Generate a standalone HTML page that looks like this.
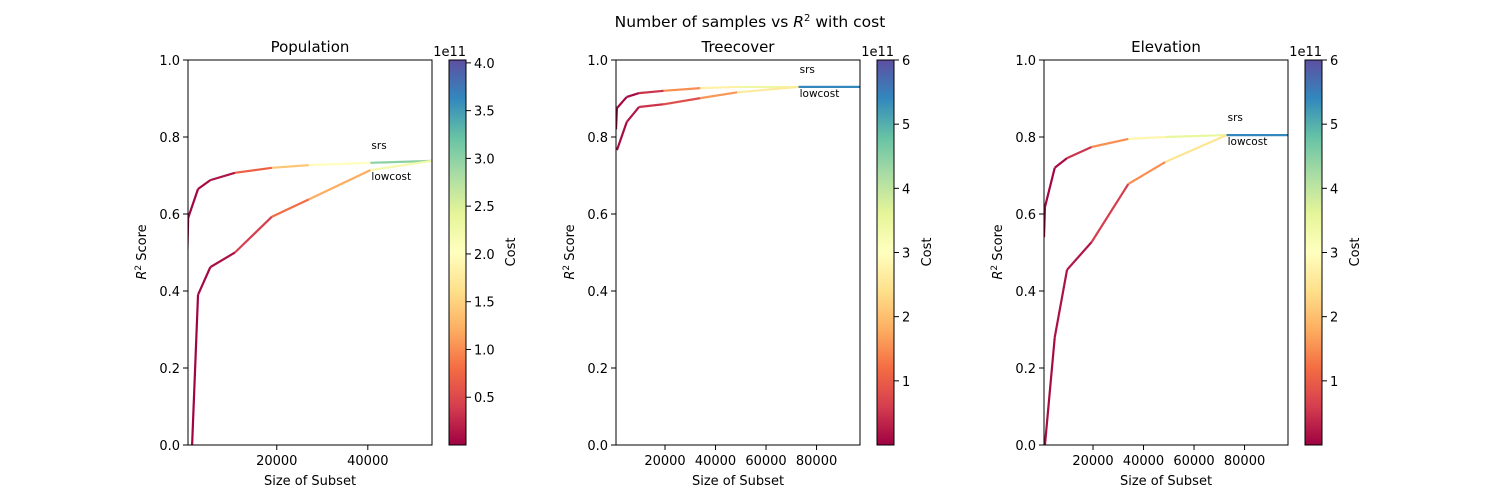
<!DOCTYPE html>
<html><head><meta charset="utf-8">
<style>
html,body{margin:0;padding:0;background:#fff;width:1500px;height:500px;overflow:hidden;}
svg{display:block;font-family:"DejaVu Sans","Liberation Sans",sans-serif;}
</style></head>
<body>
<svg id="fig" width="1500" height="500" viewBox="0 0 1500 500" xmlns="http://www.w3.org/2000/svg">
<defs>
<linearGradient id="spec" x1="0" y1="1" x2="0" y2="0">
<stop offset="0" stop-color="#9e0142"/><stop offset="0.1" stop-color="#d53e4f"/><stop offset="0.2" stop-color="#f46d43"/><stop offset="0.3" stop-color="#fdae61"/><stop offset="0.4" stop-color="#fee08b"/><stop offset="0.5" stop-color="#ffffbf"/><stop offset="0.6" stop-color="#e6f598"/><stop offset="0.7" stop-color="#abdda4"/><stop offset="0.8" stop-color="#66c2a5"/><stop offset="0.9" stop-color="#3288bd"/><stop offset="1" stop-color="#5e4fa2"/>
</linearGradient>
</defs>
<text x="750" y="27" font-size="15.5" text-anchor="middle">Number of samples vs <tspan font-style="italic">R</tspan><tspan font-size="10" dy="-6">2</tspan><tspan dy="6"> with cost</tspan></text>
</svg>
<script>
// ---- data ----
const titles = ["Population", "Treecover", "Elevation"];
const xMax = [54100, 97200, 97200];
const xMin = [505, 600, 600];
const costMax = [4.03, 6, 6];
const xTickVals = [[20000, 40000], [20000, 40000, 60000, 80000], [20000, 40000, 60000, 80000]];
const yTickVals = [0, 0.2, 0.4, 0.6, 0.8, 1.0];
const cbTickVals = [[0.5, 1.0, 1.5, 2.0, 2.5, 3.0, 3.5, 4.0], [1, 2, 3, 4, 5, 6], [1, 2, 3, 4, 5, 6]];
// srs series
const srsX = [[270, 541, 2705, 5410, 10820, 18935, 27050, 40575, 54100],
              [600, 972, 4860, 9720, 19440, 34000, 48600, 72900, 97200],
              [600, 972, 4860, 9720, 19440, 34000, 48600, 72900, 97200]];
const srsY = [[0.45, 0.59, 0.665, 0.688, 0.707, 0.72, 0.727, 0.733, 0.738],
              [0.82, 0.875, 0.904, 0.914, 0.92, 0.927, 0.93, 0.93, 0.93],
              [0.54, 0.618, 0.72, 0.745, 0.774, 0.795, 0.8, 0.805, 0.805]];
const srsCost = [[0.02, 0.03, 0.06, 0.12, 0.7, 1.4, 2.0, 3.0],
                 [0.02, 0.05, 0.1, 0.5, 1.5, 2.7, 3.4, 5.4],
                 [0.02, 0.05, 0.1, 0.5, 1.5, 2.8, 3.5, 5.6]];
// lowcost series
const lowX = [[541, 2705, 5410, 10820, 18935, 27050, 40575, 54100],
              [972, 4860, 9720, 19440, 34000, 48600, 72900, 97200],
              [972, 4860, 9720, 19440, 34000, 48600, 72900, 97200]];
const lowY = [[-0.26, 0.39, 0.462, 0.5, 0.593, 0.638, 0.714, 0.738],
              [0.766, 0.839, 0.878, 0.885, 0.901, 0.916, 0.93, 0.93],
              [0.0, 0.28, 0.455, 0.527, 0.678, 0.735, 0.805, 0.805]];
const lowCost = [[0.02, 0.05, 0.1, 0.4, 0.8, 1.2, 2.2],
                 [0.1, 0.2, 0.5, 0.8, 1.6, 2.6, 5.4],
                 [0.1, 0.15, 0.2, 0.6, 1.5, 2.5, 5.4]];

// ---- layout ----
const axLeft = [188, 616, 1044], axW = 244, axTop = 60, axBot = 445;
const cbLeft = [449, 877, 1305], cbW = 17;
const cbLabelOff = [49, 37, 37];
const NS = "http://www.w3.org/2000/svg";
const svg = document.getElementById('fig');
const stops = ["#9e0142","#d53e4f","#f46d43","#fdae61","#fee08b","#ffffbf","#e6f598","#abdda4","#66c2a5","#3288bd","#5e4fa2"];
function hex(c){return [1,3,5].map(i=>parseInt(c.substr(i,2),16));}
function spectral(t){
  t=Math.max(0,Math.min(1,t))*10; const i=Math.min(9,Math.floor(t)), f=t-i;
  const a=hex(stops[i]), b=hex(stops[i+1]);
  return 'rgb('+a.map((v,k)=>Math.round(v+(b[k]-v)*f)).join(',')+')';
}
function el(tag, attrs, parent){
  const e=document.createElementNS(NS,tag);
  for(const k in attrs) e.setAttribute(k,attrs[k]);
  (parent||svg).appendChild(e); return e;
}
for(let p=0;p<3;p++){
  const L=axLeft[p];
  const xs=v=>L+(v-xMin[p])/(xMax[p]-xMin[p])*axW;
  const ys=v=>axBot-v*(axBot-axTop);
  const g=el('g',{});
  
  
  const clipId='clip'+p;
  const cp=el('clipPath',{id:clipId},g); el('rect',{x:L,y:axTop,width:axW,height:axBot-axTop},cp);
  const lines=el('g',{'clip-path':'url(#'+clipId+')'},g);
  const series=[[srsX[p],srsY[p],srsCost[p],'srs'],[lowX[p],lowY[p],lowCost[p],'lowcost']];
  series.forEach(([X,Y,C,nm])=>{
    for(let i=0;i<X.length-1;i++){
      const s=el('line',{x1:xs(X[i]),y1:ys(Y[i]),x2:xs(X[i+1]),y2:ys(Y[i+1]),stroke:spectral(C[i]/costMax[p]),'stroke-width':2.2,'stroke-linecap':'butt'},lines);
      
      
    }
  });
  const ta=el('text',{x:xs(srsX[p][7])+1,y:ys(srsY[p][7])-14,'font-size':10.5},g); ta.textContent='srs';
  
  
  const tb=el('text',{x:xs(lowX[p][6])+1,y:ys(lowY[p][6])+10,'font-size':10.5},g); tb.textContent='lowcost';
  
  
  const fr=el('rect',{x:L,y:axTop,width:axW,height:axBot-axTop,fill:'none',stroke:'#000','stroke-width':1},g);
  
  
  yTickVals.forEach(v=>{
    const y=ys(v); el('line',{x1:L-5,y1:y,x2:L,y2:y,stroke:'#000'},g);
    const t=el('text',{x:L-8,y:y+5,'font-size':13,'text-anchor':'end'},g); t.textContent=v.toFixed(1);
    
    
  });
  xTickVals[p].forEach(v=>{
    const x=xs(v); el('line',{x1:x,y1:axBot,x2:x,y2:axBot+5,stroke:'#000'},g);
    const t=el('text',{x:x,y:axBot+20,'font-size':13,'text-anchor':'middle'},g); t.textContent=v;
    
    
  });
  const tt=el('text',{x:L+axW/2,y:52,'font-size':15,'text-anchor':'middle'},g); tt.textContent=titles[p];
  
  
  const xl=el('text',{x:L+axW/2,y:485,'font-size':13,'text-anchor':'middle'},g); xl.textContent='Size of Subset';
  
  
  const yl=el('text',{x:0,y:0,'font-size':13,'text-anchor':'middle',transform:'translate('+(L-42)+',252) rotate(-90)'},g);
  yl.innerHTML='<tspan font-style="italic">R</tspan><tspan font-size="9" dy="-5">2</tspan><tspan dy="5"> Score</tspan>';
  
  
  const C=cbLeft[p];
  const cb=el('rect',{x:C,y:axTop,width:cbW,height:axBot-axTop,fill:'url(#spec)',stroke:'#000','stroke-width':1},g);
  
  
  cbTickVals[p].forEach(v=>{
    const y=axBot-v/costMax[p]*(axBot-axTop);
    el('line',{x1:C+cbW,y1:y,x2:C+cbW+5,y2:y,stroke:'#000'},g);
    const t=el('text',{x:C+cbW+8,y:y+5,'font-size':13},g); t.textContent=(p===0?v.toFixed(1):String(v));
    
    
  });
  const ex=el('text',{x:C+cbW,y:56,'font-size':13,'text-anchor':'end'},g); ex.textContent='1e11';
  
  
  const cl=el('text',{x:0,y:0,'font-size':13,'text-anchor':'middle',transform:'translate('+(C+cbW+cbLabelOff[p])+',252) rotate(-90)'},g); cl.textContent='Cost';
  
  
}
</script>
</body></html>
